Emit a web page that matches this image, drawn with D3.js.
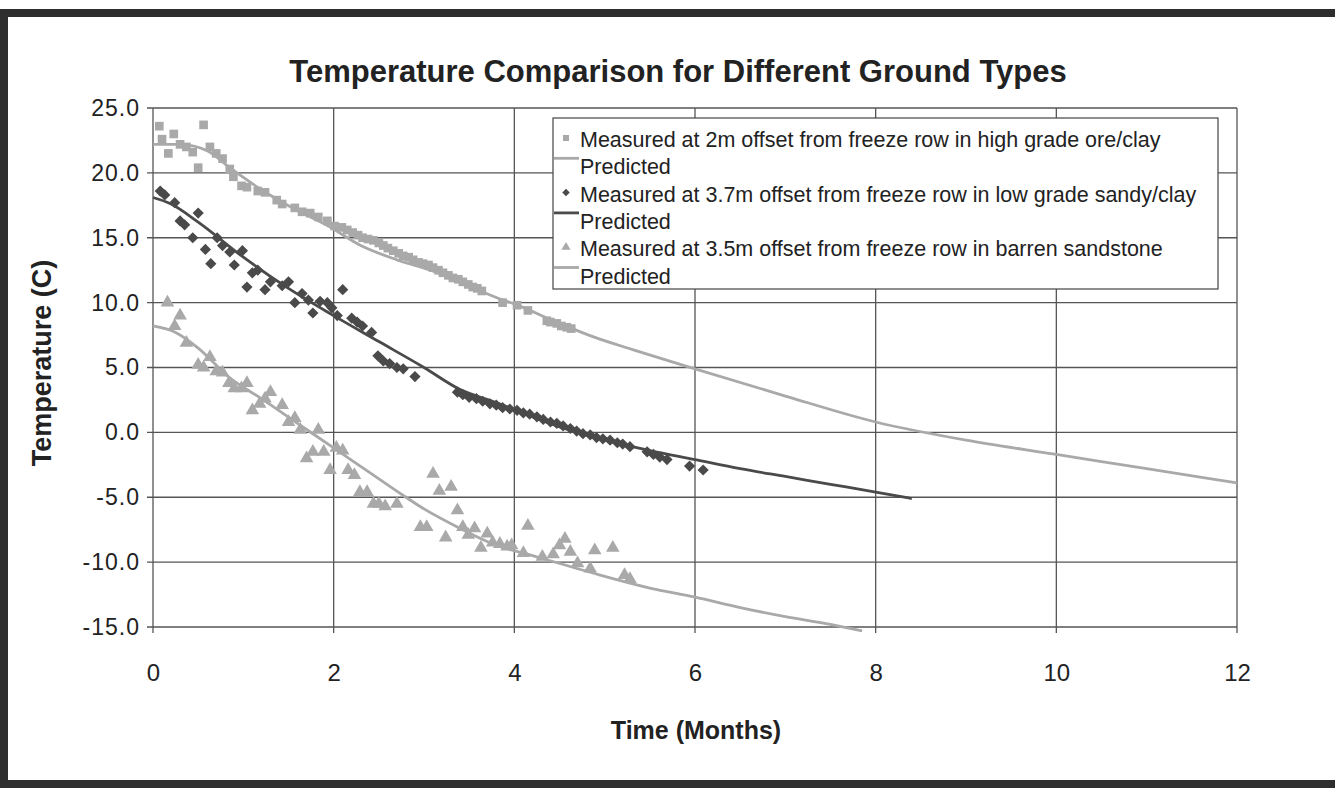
<!DOCTYPE html>
<html>
<head>
<meta charset="utf-8">
<script src="https://cdn.jsdelivr.net/npm/d3@7"></script>
<style>
  body { margin: 0; background: #fff; }
  text { font-family: "Liberation Sans", Arial, sans-serif; fill: #222; }
</style>
</head>
<body>
<div id="chart"></div>
<script>
// measured: high grade ore/clay, 2m offset
var oreMeasured = [
  [0.07,23.6],[0.1,22.6],[0.17,21.5],[0.23,23.0],[0.3,22.2],[0.37,22.0],[0.44,21.6],[0.5,20.4],
  [0.56,23.7],[0.63,22.0],[0.7,21.5],[0.77,21.1],[0.85,20.3],[0.89,19.7],[0.98,19.0],[1.04,18.9],
  [1.16,18.6],[1.24,18.5],[1.37,17.9],[1.43,17.6],[1.57,17.3],[1.65,17.0],[1.74,16.9],[1.83,16.6],
  [1.93,16.3],[2.01,15.9],[2.09,15.8],[2.15,15.6],[2.21,15.4],[2.27,15.2],[2.32,15.0],[2.38,14.9],
  [2.44,14.8],[2.5,14.6],[2.55,14.4],[2.6,14.2],[2.66,14.0],[2.72,13.8],[2.77,13.6],[2.83,13.5],
  [2.88,13.3],[2.94,13.1],[2.99,13.0],[3.05,12.9],[3.1,12.7],[3.16,12.5],[3.21,12.3],[3.27,12.1],
  [3.32,11.9],[3.38,11.8],[3.43,11.6],[3.49,11.4],[3.54,11.2],[3.59,11.1],[3.64,10.9],[3.87,10.0],
  [4.03,9.8],[4.15,9.4],[4.36,8.6],[4.4,8.5],[4.47,8.4],[4.52,8.2],[4.58,8.1],[4.63,8.0]
];
var orePredicted = [
  [0,22.2],[0.3,22.2],[0.6,21.7],[0.85,20.4],[1.2,18.7],[1.57,17.2],[1.94,15.9],[2.3,14.4],
  [2.7,13.3],[3.07,12.5],[3.43,11.5],[3.8,10.4],[4.0,9.9],[4.5,8.4],[4.9,7.3],[5.3,6.4],
  [6.0,4.9],[7.0,2.8],[8.0,0.8],[9.0,-0.6],[10.0,-1.7],[11.0,-2.8],[12.0,-3.9]
];
// measured: low grade sandy/clay, 3.7m offset
var sandyMeasured = [
  [0.08,18.6],[0.13,18.3],[0.24,17.7],[0.3,16.3],[0.35,16.0],[0.44,15.0],[0.5,16.9],[0.58,14.1],
  [0.64,13.0],[0.71,15.0],[0.77,14.4],[0.85,13.9],[0.9,12.9],[0.99,14.0],[1.04,11.2],[1.1,12.3],
  [1.16,12.5],[1.24,11.0],[1.3,11.6],[1.43,11.3],[1.5,11.6],[1.57,10.0],[1.65,10.7],[1.72,10.2],
  [1.77,9.2],[1.85,10.1],[1.93,10.0],[1.98,9.6],[2.04,9.0],[2.1,11.0],[2.2,8.8],[2.26,8.5],
  [2.32,8.2],[2.42,7.7],[2.49,5.9],[2.55,5.5],[2.62,5.3],[2.7,5.0],[2.77,4.9],[2.9,4.3],
  [3.37,3.1],[3.43,2.9],[3.5,2.7],[3.58,2.6],[3.65,2.4],[3.73,2.2],[3.8,2.1],[3.87,1.9],
  [3.95,1.8],[4.03,1.7],[4.1,1.5],[4.17,1.4],[4.25,1.2],[4.32,1.0],[4.4,0.8],[4.47,0.7],
  [4.54,0.5],[4.62,0.3],[4.69,0.1],[4.76,-0.1],[4.84,-0.2],[4.91,-0.4],[4.98,-0.5],[5.06,-0.6],
  [5.14,-0.8],[5.2,-0.9],[5.28,-1.1],[5.47,-1.5],[5.54,-1.7],[5.61,-1.9],[5.69,-2.1],[5.94,-2.6],
  [6.09,-2.9]
];
var sandyPredicted = [
  [0,18.1],[0.2,17.6],[0.5,16.2],[1.0,13.5],[1.5,11.1],[2.0,9.0],[2.5,7.0],[3.0,5.0],
  [3.4,3.3],[3.8,2.3],[4.2,1.2],[4.6,0.2],[5.0,-0.6],[5.5,-1.4],[6.0,-2.1],[6.5,-2.8],
  [7.0,-3.4],[7.5,-4.0],[8.0,-4.6],[8.4,-5.1]
];
// measured: barren sandstone, 3.5m offset
var barrenMeasured = [
  [0.16,10.0],[0.24,8.2],[0.3,9.0],[0.37,6.9],[0.5,5.2],[0.56,5.0],[0.63,5.8],[0.7,4.7],
  [0.77,4.6],[0.84,3.8],[0.9,3.4],[0.98,3.4],[1.04,3.8],[1.1,1.7],[1.18,2.2],[1.24,2.6],
  [1.3,3.1],[1.43,2.1],[1.5,0.8],[1.57,1.1],[1.63,0.2],[1.7,-2.0],[1.77,-1.5],[1.83,0.2],
  [1.89,-1.5],[1.96,-2.9],[2.03,-1.2],[2.1,-1.4],[2.16,-2.9],[2.23,-3.3],[2.29,-4.6],[2.37,-4.6],
  [2.44,-5.5],[2.5,-5.5],[2.57,-5.7],[2.7,-5.5],[2.96,-7.3],[3.03,-7.3],[3.1,-3.2],[3.17,-4.5],
  [3.3,-4.2],[3.24,-8.1],[3.37,-6.0],[3.43,-7.3],[3.49,-7.9],[3.56,-7.4],[3.63,-8.9],[3.7,-7.8],
  [3.76,-8.5],[3.84,-8.6],[3.92,-8.8],[3.97,-8.7],[4.1,-9.3],[4.15,-7.2],[4.31,-9.6],[4.43,-9.4],
  [4.5,-8.7],[4.56,-8.2],[4.62,-9.2],[4.7,-10.1],[4.84,-10.5],[4.89,-9.1],[5.09,-8.9],[5.22,-11.0],
  [5.28,-11.3]
];
var barrenPredicted = [
  [0,8.2],[0.25,7.7],[0.5,6.5],[0.85,4.2],[1.2,2.6],[1.6,0.7],[2.0,-1.2],[2.4,-3.1],
  [2.8,-5.0],[3.0,-5.9],[3.4,-7.4],[3.8,-8.7],[4.2,-9.5],[4.6,-10.3],[5.0,-11.1],[5.5,-12.0],
  [6.0,-12.7],[6.5,-13.5],[7.0,-14.2],[7.5,-14.8],[7.85,-15.3]
];

var xTicks = [0, 2, 4, 6, 8, 10, 12];
var yTicks = [25, 20, 15, 10, 5, 0, -5, -10, -15];
var legendLabels = [
  "Measured at 2m offset from freeze row in high grade ore/clay",
  "Predicted",
  "Measured at 3.7m offset from freeze row in low grade sandy/clay",
  "Predicted",
  "Measured at 3.5m offset from freeze row in barren sandstone",
  "Predicted"
];

var light = "#a9a9a9", dark = "#4a4a4a";

var width = 1335, height = 788;
var margin = {top: 108, right: 98, bottom: 161, left: 153};
var chartWidth = width - margin.left - margin.right;
var chartHeight = height - margin.top - margin.bottom;

var root = d3.select('#chart').append('svg')
    .attr('width', width)
    .attr('height', height);

// scanned page frame
root.append('rect')
    .attr('x', 4).attr('y', 13)
    .attr('width', width + 20).attr('height', 771)
    .attr('fill', 'none')
    .attr('stroke', '#2e2e2e')
    .attr('stroke-width', 8);

root.append('text')
    .attr('x', 678).attr('y', 82)
    .attr('text-anchor', 'middle')
    .style('font-size', '31px')
    .style('font-weight', 'bold')
    .attr('fill', '#333')
    .text('Temperature Comparison for Different Ground Types');

var svg = root.append('g')
    .attr('transform', `translate(${margin.left}, ${margin.top})`);

var xScale = d3.scaleLinear().domain([0, 12]).range([0, chartWidth]);
var yScale = d3.scaleLinear().domain([-15, 25]).range([chartHeight, 0]);

// grid
svg.append('g').selectAll('line')
  .data(yTicks).join('line')
    .attr('x1', -6).attr('x2', chartWidth)
    .attr('y1', d => yScale(d)).attr('y2', d => yScale(d))
    .attr('stroke', '#555').attr('stroke-width', 1.3);
svg.append('g').selectAll('line')
  .data(xTicks).join('line')
    .attr('x1', d => xScale(d)).attr('x2', d => xScale(d))
    .attr('y1', 0).attr('y2', chartHeight + 6)
    .attr('stroke', '#555').attr('stroke-width', 1.3);

var fmt = d3.format('.1f');
var xAxis = d3.axisBottom(xScale).tickValues(xTicks).tickSize(0).tickPadding(37);
var yAxis = d3.axisLeft(yScale).tickValues(yTicks).tickSize(0).tickPadding(13)
    .tickFormat(d => fmt(d).replace('\u2212', '-'));

svg.append('g')
    .attr('transform', `translate(0,${chartHeight})`)
    .call(xAxis)
    .call(g => g.select('.domain').remove())
    .selectAll('text')
      .style('font-size', '24px')
      .style('font-family', '"Liberation Sans", Arial, sans-serif')
      .attr('fill', '#333');

svg.append('g')
    .call(yAxis)
    .call(g => g.select('.domain').remove())
    .selectAll('text')
      .style('font-size', '23px')
      .style('letter-spacing', '1px')
      .style('font-family', '"Liberation Sans", Arial, sans-serif')
      .attr('fill', '#333');

root.append('text')
    .attr('transform', 'translate(51,363) rotate(-90)')
    .attr('text-anchor', 'middle')
    .style('font-size', '27px')
    .style('font-weight', 'bold')
    .attr('fill', '#333')
    .text('Temperature (C)');

root.append('text')
    .attr('x', 696).attr('y', 739)
    .attr('text-anchor', 'middle')
    .style('font-size', '25px')
    .style('font-weight', 'bold')
    .attr('fill', '#333')
    .text('Time (Months)');

var line = d3.line()
    .x(d => xScale(d[0]))
    .y(d => yScale(d[1]))
    .curve(d3.curveMonotoneX);

var diamond = d3.symbolDiamond2 || d3.symbolDiamond;

function drawPoints(data, type, size, color) {
  svg.append('g').selectAll('path')
    .data(data).join('path')
      .attr('transform', d => `translate(${xScale(d[0])},${yScale(d[1])})`)
      .attr('d', d3.symbol().type(type).size(size))
      .attr('fill', color);
}

drawPoints(oreMeasured, d3.symbolSquare, 75, light);
drawPoints(sandyMeasured, diamond, 80, dark);
drawPoints(barrenMeasured, d3.symbolTriangle, 80, light);

[[orePredicted, light], [sandyPredicted, dark], [barrenPredicted, light]].forEach(p => {
  svg.append('path')
    .datum(p[0])
    .attr('d', line)
    .attr('fill', 'none')
    .attr('stroke', p[1])
    .attr('stroke-width', 2.8);
});

// legend
var legend = root.append('g').attr('transform', 'translate(553,118)');
legend.append('rect')
    .attr('width', 665).attr('height', 171)
    .attr('fill', '#fff')
    .attr('stroke', '#444').attr('stroke-width', 1.2);

var legendSymbols = [d3.symbolSquare, null, diamond, null, d3.symbolTriangle, null];
var legendColors = [light, light, dark, dark, light, light];

legendLabels.forEach((lab, i) => {
  var y = 23 + i * 27.3;
  if (legendSymbols[i]) {
    legend.append('path')
      .attr('transform', `translate(13,${y - 3})`)
      .attr('d', d3.symbol().type(legendSymbols[i]).size(36))
      .attr('fill', legendColors[i]);
  } else {
    legend.append('line')
      .attr('x1', 1).attr('x2', 26)
      .attr('y1', y - 10).attr('y2', y - 10)
      .attr('stroke', legendColors[i]).attr('stroke-width', 2.8);
  }
  legend.append('text')
    .attr('x', 27).attr('y', y + 6)
    .style('font-size', '21.5px')
    .attr('fill', '#333')
    .text(lab);
});
</script>
</body>
</html>
